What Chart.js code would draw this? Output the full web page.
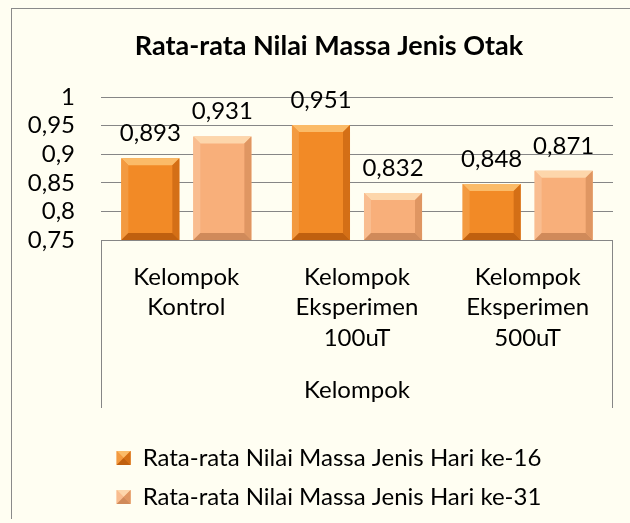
<!DOCTYPE html>
<html>
<head>
<meta charset="utf-8">
<script src="https://cdn.jsdelivr.net/npm/chart.js@4.4.1/dist/chart.umd.min.js"></script>
<style>
  html, body { margin: 0; padding: 0; overflow: hidden; background: #fffef2; }
  #frame { position: absolute; left: 11px; top: 8px; border-left: 1px solid #8a8a8a; border-top: 1px solid #8a8a8a; }
  canvas { display: block; }
</style>
</head>
<body>
<div id="frame"><canvas id="chart" width="634" height="510"></canvas></div>
<script>
// data
const categories = [
    ['Kelompok', 'Kontrol'],
    ['Kelompok', 'Eksperimen', '100uT'],
    ['Kelompok', 'Eksperimen', '500uT']
];
const seriesNames = ['Rata-rata Nilai Massa Jenis Hari ke-16', 'Rata-rata Nilai Massa Jenis Hari ke-31'];
const day16 = [0.893, 0.951, 0.848];
const day31 = [0.931, 0.832, 0.871];
const yTicks = [0.75, 0.8, 0.85, 0.9, 0.95, 1];

const FONT = 'Lato, "Open Sans", sans-serif';
const GRID = '#868686';

// bevel colours per series: body, top, left, right, bottom
const bevels = [
    { body: '#f28a26', top: '#fbbb68', left: '#f39a40', right: '#d46f16', bottom: '#c0600f' },
    { body: '#f8af7a', top: '#fdd6ab', left: '#f9bd90', right: '#df9662', bottom: '#d08a5a' }
];

function fmt(v) {
    return String(Number(v.toFixed(3))).replace('.', ',');
}

// four facets round a rectangle, like the excel bevel
function bevel(ctx, l, t, r, bt, b, c) {
    const poly = (pts, col) => {
        ctx.beginPath();
        ctx.moveTo(pts[0][0], pts[0][1]);
        pts.slice(1).forEach(p => ctx.lineTo(p[0], p[1]));
        ctx.closePath();
        ctx.fillStyle = col;
        ctx.fill();
    };
    poly([[l, t], [r, t], [r - b, t + b], [l + b, t + b]], c.top);
    poly([[l, t], [l + b, t + b], [l + b, bt - b], [l, bt]], c.left);
    poly([[r, t], [r - b, t + b], [r - b, bt - b], [r, bt]], c.right);
    poly([[l, bt], [l + b, bt - b], [r - b, bt - b], [r, bt]], c.bottom);
}

const bevelAndLabels = {
    id: 'bevelAndLabels',
    afterDatasetsDraw(chart) {
        const ctx = chart.ctx;
        chart.data.datasets.forEach((ds, di) => {
            const meta = chart.getDatasetMeta(di);
            meta.data.forEach((el, i) => {
                const l = el.x - el.width / 2, r = el.x + el.width / 2;
                const bt = Math.min(el.base, chart.chartArea.bottom);
                ctx.save();
                bevel(ctx, l, el.y, r, bt, 7, bevels[di]);
                ctx.fillStyle = '#000';
                ctx.font = '24px ' + FONT;
                ctx.textAlign = 'center';
                ctx.textBaseline = 'middle';
                ctx.fillText(fmt(ds.data[i]), el.x, el.y - 25);
                ctx.restore();
            });
        });
    },
    afterDraw(chart) {
        const ctx = chart.ctx;
        // box lines around the category axis
        const x = chart.scales.x;
        ctx.save();
        ctx.strokeStyle = GRID;
        ctx.lineWidth = 1;
        ctx.beginPath();
        ctx.moveTo(Math.round(x.left) + 0.5, x.top);
        ctx.lineTo(Math.round(x.left) + 0.5, x.bottom);
        ctx.moveTo(Math.round(x.right) - 0.5, x.top);
        ctx.lineTo(Math.round(x.right) - 0.5, x.bottom);
        ctx.stroke();

        // legend markers get the same bevel
        const lg = chart.legend;
        const lab = lg.options.labels;
        const size = lab.font.size;
        (lg.legendHitBoxes || []).forEach((hb, i) => {
            const top = hb.top + (Math.max(size, lab.boxHeight) - lab.boxHeight) / 2;
            bevel(ctx, hb.left, top, hb.left + lab.boxWidth, top + lab.boxHeight, lab.boxWidth / 2, {
                top: bevels[i].top, left: bevels[i].left, right: bevels[i].right, bottom: bevels[i].bottom
            });
        });
        ctx.restore();
    }
};

new Chart(document.getElementById('chart'), {
    type: 'bar',
    data: {
        labels: categories,
        datasets: [
            { label: seriesNames[0], data: day16, backgroundColor: bevels[0].body },
            { label: seriesNames[1], data: day31, backgroundColor: bevels[1].body }
        ]
    },
    options: {
        responsive: false,
        animation: false,
        devicePixelRatio: 1,
        categoryPercentage: 0.844,
        barPercentage: 0.806,
        layout: { padding: 0 },
        plugins: {
            title: {
                display: true,
                text: 'Rata-rata Nilai Massa Jenis Otak',
                color: '#000',
                font: { family: FONT, size: 27, weight: 'bold' },
                padding: { top: 20.8, bottom: 34.8 }
            },
            legend: {
                position: 'bottom',
                title: { display: true, text: '', font: { size: 10 }, padding: { top: 0, bottom: 11 } },
                labels: {
                    color: '#000',
                    font: { family: FONT, size: 24 },
                    boxWidth: 14,
                    boxHeight: 14,
                    padding: 15
                }
            },
            tooltip: { enabled: false }
        },
        scales: {
            x: {
                grid: { display: false, drawTicks: false },
                border: { display: false },
                ticks: {
                    color: '#000',
                    font: { family: FONT, size: 24, lineHeight: 1.28 },
                    padding: 21.6,
                    maxRotation: 0
                },
                title: {
                    display: true,
                    text: 'Kelompok',
                    color: '#000',
                    font: { family: FONT, size: 24, lineHeight: 1.28 },
                    padding: { top: 0, bottom: 2 }
                },
                afterFit: s => { s.height = 168; }
            },
            y: {
                min: 0.75,
                max: 1,
                grid: { color: GRID, drawTicks: false },
                border: { display: false },
                ticks: {
                    color: '#000',
                    font: { family: FONT, size: 24 },
                    padding: 26,
                    autoSkip: false,
                    callback: v => fmt(v)
                },
                afterBuildTicks: s => { s.ticks = yTicks.map(v => ({ value: v })); },
                afterFit: s => { s.width = 89; }
            },
            // empty right axis, only to keep the plot off the right edge
            y2: {
                position: 'right',
                min: 0,
                max: 1,
                grid: { display: false, drawTicks: false },
                border: { display: false },
                ticks: { display: false },
                afterFit: s => { s.width = 33; }
            }
        }
    },
    plugins: [bevelAndLabels]
});
</script>
</body>
</html>
